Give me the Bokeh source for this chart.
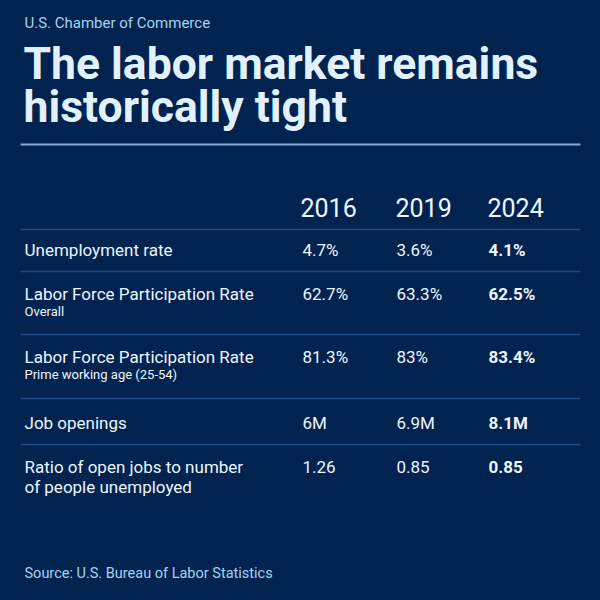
from bokeh.plotting import figure
from bokeh.models import Range1d
from bokeh.core.properties import value
from bokeh.embed import file_html
from bokeh.resources import INLINE

# ---- data ----
source_org = "U.S. Chamber of Commerce"
title_lines = ["The labor market remains", "historically tight"]
years = ["2016", "2019", "2024"]
row_labels = [
    ["Unemployment rate"],
    ["Labor Force Participation Rate"],
    ["Labor Force Participation Rate"],
    ["Job openings"],
    ["Ratio of open jobs to number", "of people unemployed"],
]
row_sublabels = ["", "Overall", "Prime working age (25-54)", "", ""]
values_2016 = ["4.7%", "62.7%", "81.3%", "6M", "1.26"]
values_2019 = ["3.6%", "63.3%", "83%", "6.9M", "0.85"]
values_2024 = ["4.1%", "62.5%", "83.4%", "8.1M", "0.85"]
footnote = "Source: U.S. Bureau of Labor Statistics"

# ---- style ----
BG = "#00234f"
TITLE_C = "#e2f1ff"
SUB_C = "#a6d3f2"
TEXT_C = "#eef5ff"
RULE_C = "#8aa9d9"
LINE_C = "#1d4a8a"
FONT = "Roboto"

W = H = 584
p = figure(width=W, height=H, x_range=Range1d(0, W), y_range=Range1d(H, 0),
           output_backend="svg", toolbar_location=None, min_border=0)
p.axis.visible = False
p.grid.visible = False
p.outline_line_color = None
p.background_fill_color = BG
p.border_fill_color = BG

def txt(x, y, t, size, color, style="normal", align="left"):
    p.text(x=[x], y=[y], text=[t], text_font=value(FONT), text_font_size=f"{size}px",
           text_color=color, text_font_style=style, text_align=align,
           text_baseline="middle")

txt(24, 22, source_org, 15, SUB_C)
txt(23, 63, title_lines[0], 44.5, TITLE_C, "bold")
txt(23, 106, title_lines[1], 44.5, TITLE_C, "bold")
p.segment(x0=[20], y0=[144], x1=[580], y1=[144], line_color=RULE_C, line_width=2)

col_x = [300, 395, 487]
for x, yr in zip(col_x, years):
    txt(x, 207, yr, 25, TEXT_C)

line_y = [229, 271, 334, 398, 444]
p.segment(x0=[20] * len(line_y), y0=line_y, x1=[580] * len(line_y), y1=line_y,
          line_color=LINE_C, line_width=1.5)

row_y = [249, 293, 356, 422, 466]
for i, y in enumerate(row_y):
    for j, ln in enumerate(row_labels[i]):
        txt(24, y + j * 20, ln, 17, TEXT_C)
    if row_sublabels[i]:
        txt(24, y + 18, row_sublabels[i], 13, TEXT_C)
    txt(col_x[0] + 2, y, values_2016[i], 17, TEXT_C)
    txt(col_x[1] + 1, y, values_2019[i], 17, TEXT_C)
    txt(col_x[2] + 1, y, values_2024[i], 17, TEXT_C, "bold")

txt(24, 573, footnote, 14.5, SUB_C)

html = file_html(p, INLINE)
html = html.replace("<head>", "<head><style>html,body{background:%s;}</style>" % BG, 1)
open("out.html", "w").write(html)
